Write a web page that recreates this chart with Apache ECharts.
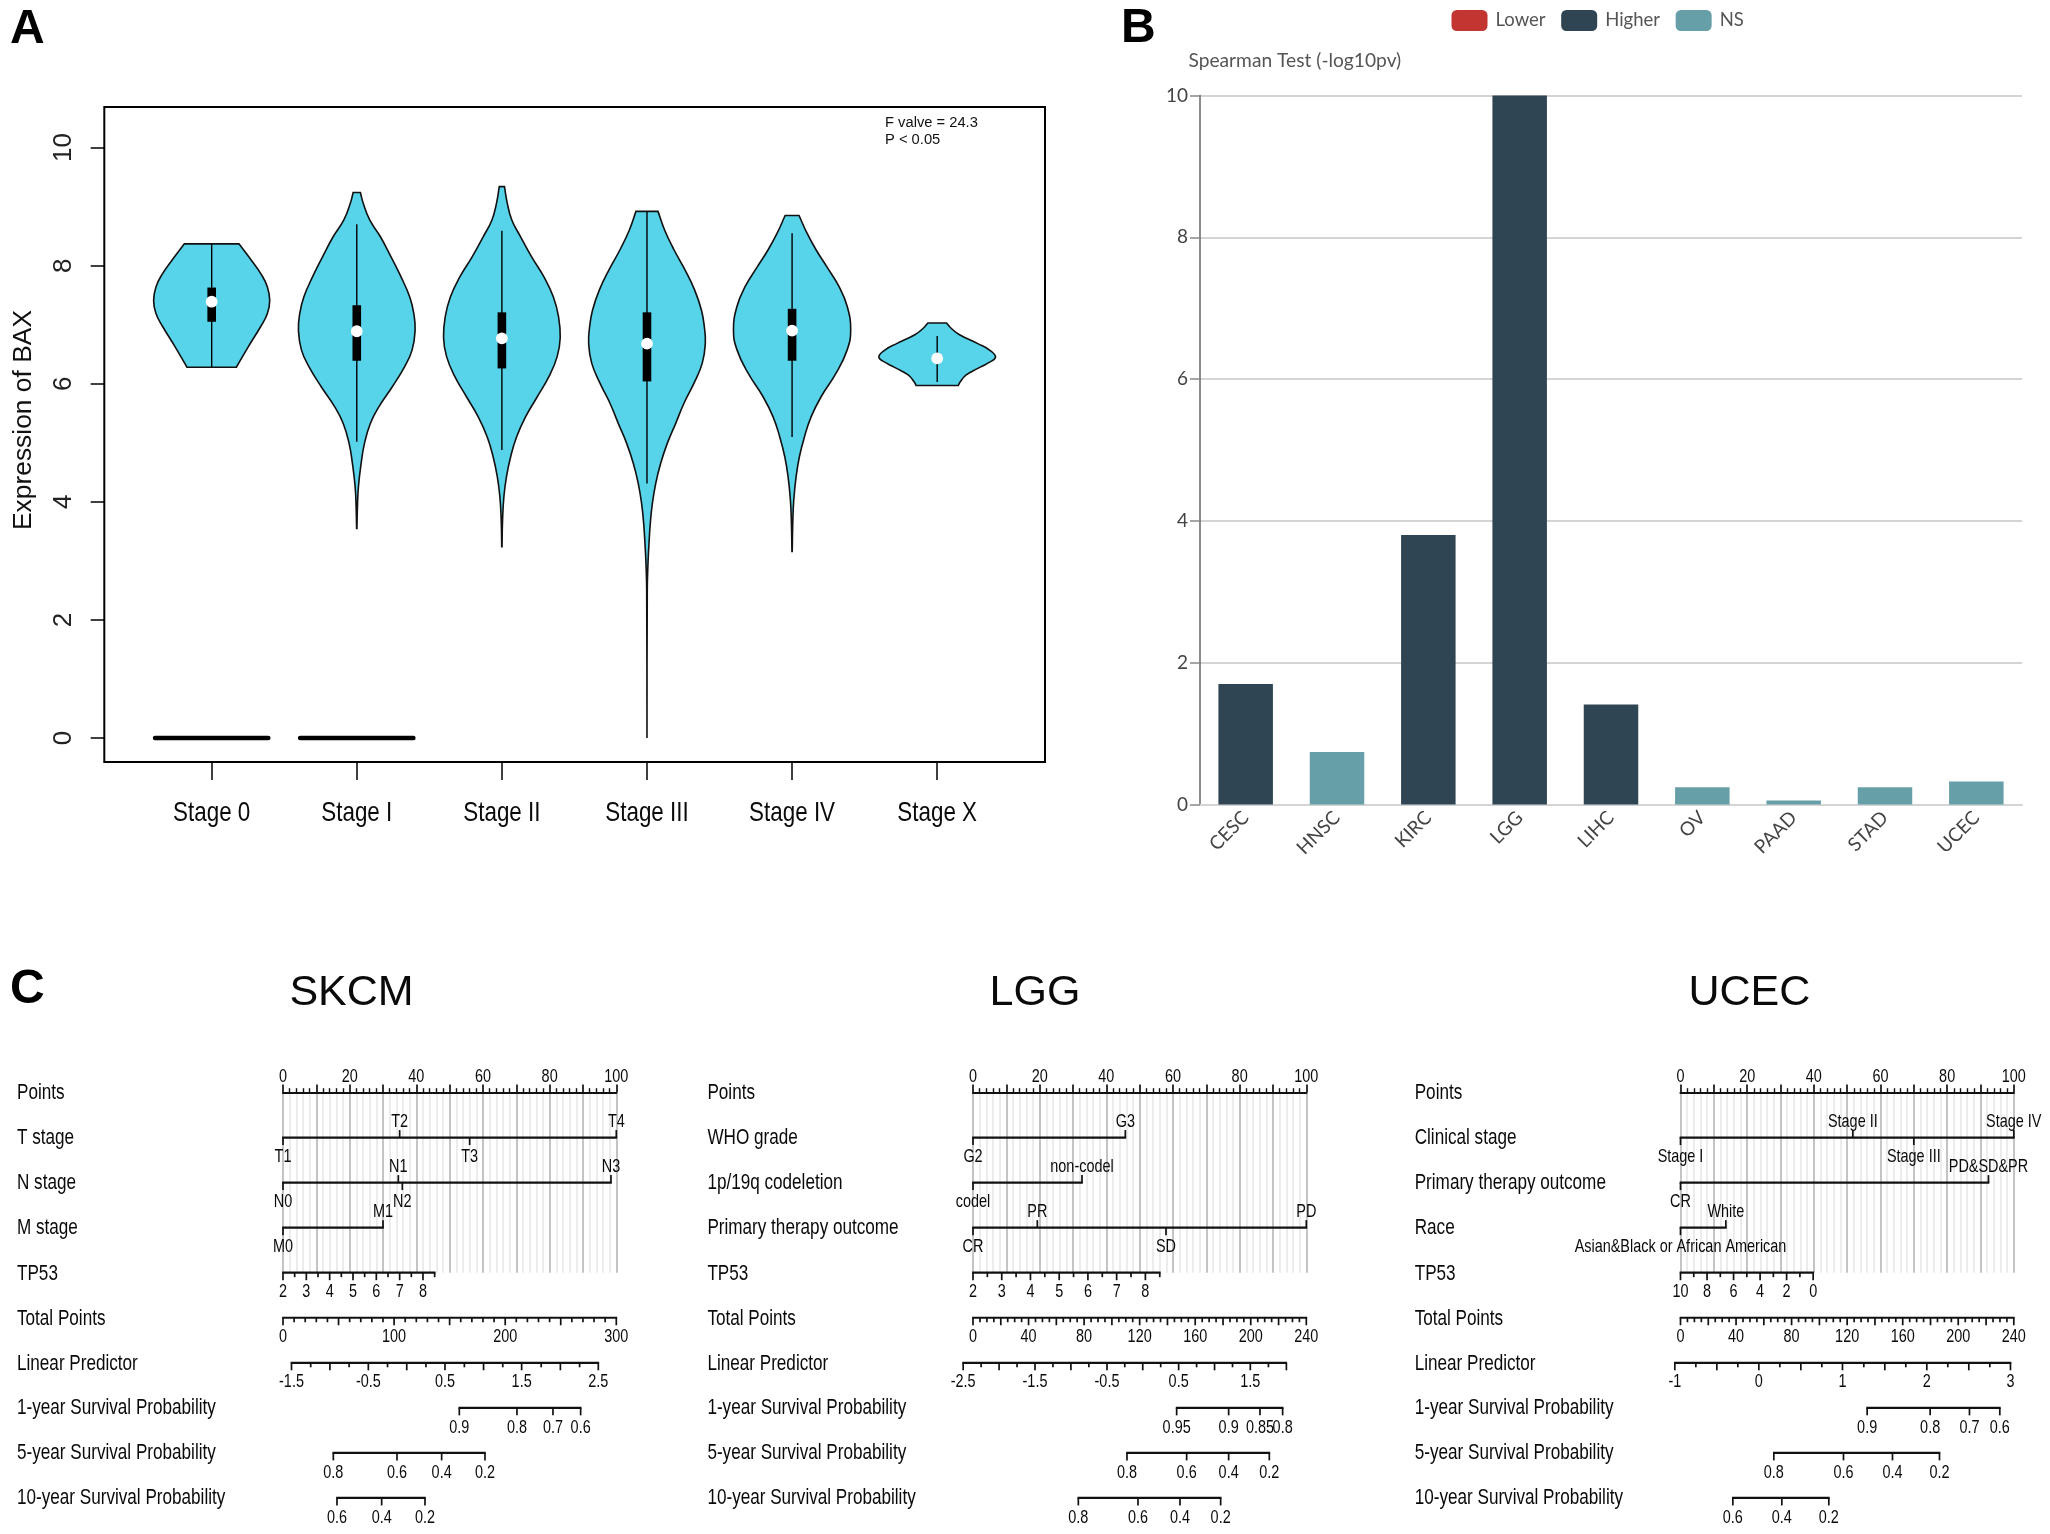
<!DOCTYPE html>
<html><head><meta charset="utf-8">
<style>html,body{margin:0;padding:0;background:#fff}#c{width:2050px;height:1534px}</style>
<script src="https://cdn.jsdelivr.net/npm/echarts@6/dist/echarts.min.js"></script>
</head><body><div id="c"></div>
<script>
// ---------- Panel A: violin data ([expression, half width]) ----------
const stageNames = ['Stage 0','Stage I','Stage II','Stage III','Stage IV','Stage X'];
const stageTicks = [0,1,2,3,4,5];
const exprTicks = [0,2,4,6,8,10];
const violinStage0 = [[8.37,.188],[8.10,.271],[7.84,.345],[7.64,.384],[7.41,.40],[7.19,.384],[6.97,.338],[6.63,.253],[6.28,.17]];
const violinStage1 = [[9.24,.025],[9.06,.044],[8.77,.09],[8.49,.163],[8.15,.236],[7.81,.305],[7.47,.365],[7.19,.393],[6.90,.402],[6.57,.381],[6.29,.33],[5.95,.245],[5.61,.152],[5.33,.094],[4.99,.053],[4.65,.03],[4.26,.0115],[3.92,.0046],[3.55,.001]];
const violinStage2 = [[9.34,.018],[9.06,.037],[8.77,.069],[8.49,.129],[8.15,.205],[7.81,.29],[7.47,.355],[7.14,.39],[6.78,.402],[6.46,.381],[6.12,.324],[5.78,.244],[5.44,.163],[5.10,.101],[4.76,.06],[4.43,.032],[4.09,.014],[3.69,.0046],[3.24,.001]];
const violinStage3 = [[8.92,.076],[8.60,.122],[8.27,.186],[7.93,.262],[7.59,.328],[7.25,.375],[6.97,.395],[6.68,.402],[6.35,.381],[6.01,.324],[5.67,.255],[5.33,.198],[4.99,.14],[4.65,.094],[4.31,.06],[3.97,.037],[3.64,.023],[3.30,.014],[2.96,.007],[2.51,.002],[0,0]];
const violinStage4 = [[8.85,.048],[8.55,.103],[8.27,.165],[7.98,.24],[7.64,.325],[7.31,.38],[6.91,.404],[6.57,.379],[6.18,.303],[5.78,.20],[5.44,.131],[5.10,.085],[4.76,.05],[4.43,.028],[4.03,.0115],[3.64,.0046],[3.16,.001]];
const violinStageX = [[7.03,.064],[6.94,.096],[6.83,.154],[6.68,.28],[6.57,.361],[6.45,.402],[6.35,.349],[6.26,.28],[6.15,.20],[6.03,.158],[5.97,.145]];
const violins = [violinStage0,violinStage1,violinStage2,violinStage3,violinStage4,violinStageX];
const medians = [7.39,6.89,6.77,6.68,6.90,6.43];
const q1s = [7.05,6.39,6.26,6.04,6.39,6.43];
const q3s = [7.63,7.33,7.21,7.21,7.27,6.43];
const whiskLo = [6.28,5.02,4.88,4.31,5.10,6.03];
const whiskHi = [8.37,8.70,8.59,8.92,8.55,6.81];
const zeroViolinStages = [0,1];
const zeroViolinHalf = .39;

// ---------- Panel B ----------
const cancerTypes = ['CESC','HNSC','KIRC','LGG','LIHC','OV','PAAD','STAD','UCEC'];
const lowerValues = [null,null,null,null,null,null,null,null,null];
const higherValues = [1.70,null,3.80,10,1.41,null,null,null,null];
const nsValues = [null,0.74,null,null,null,0.245,0.055,0.245,0.325];

// ---------- Panel C: nomograms ----------
const pointTicks = [0,20,40,60,80,100];
const survivalRows = ['1-year Survival Probability','5-year Survival Probability','10-year Survival Probability'];
const skcmRowNames = ['Points','T stage','N stage','M stage','TP53','Total Points','Linear Predictor',...survivalRows];
const lggRowNames = ['Points','WHO grade','1p/19q codeletion','Primary therapy outcome','TP53','Total Points','Linear Predictor',...survivalRows];
const ucecRowNames = ['Points','Clinical stage','Primary therapy outcome','Race','TP53','Total Points','Linear Predictor',...survivalRows];

const skcmLabels = [[],['T1','T2','T3','T4'],['N0','N1','N2','N3'],['M0','M1'],
 ['2','3','4','5','6','7','8'],['0','100','200','300'],['-1.5','-0.5','0.5','1.5','2.5'],
 ['0.9','0.8','0.7','0.6'],['0.8','0.6','0.4','0.2'],['0.6','0.4','0.2']];
const skcmPoints = [[],[0,35,56,100],[0,34.6,35.8,98.4],[0,30],
 [0,7,14,21,28,35,42],[0,33.33,66.67,100],[2.55,25.6,48.6,71.6,94.6],
 [52.9,70.2,81,89.3],[15.1,34.2,47.6,60.6],[16.2,29.6,42.6]];
const skcmSubdiv = [0,0,0,0,2,10,4,0,0,0];
const skcmLongEvery = [0,0,0,0,2,5,2,0,0,0];
const skcmTail = [0,0,0,0,1,0,0,0,0,0];

const lggLabels = [[],['G2','G3'],['codel','non-codel'],['CR','PR','SD','PD'],
 ['2','3','4','5','6','7','8'],['0','40','80','120','160','200','240'],['-2.5','-1.5','-0.5','0.5','1.5'],
 ['0.95','0.9','0.85','0.8'],['0.8','0.6','0.4','0.2'],['0.8','0.6','0.4','0.2']];
const lggPoints = [[],[0,45.7],[0,32.7],[0,19.3,57.9,100],
 [0,8.62,17.24,25.86,34.48,43.1,51.72],[0,16.67,33.33,50,66.67,83.33,100],[-2.95,18.6,40.2,61.7,83.2],
 [61.1,76.7,86.1,92.9],[46.2,64.1,76.7,88.9],[31.6,49.5,62.1,74.3]];
const lggSubdiv = [0,0,0,0,2,8,4,0,0,0];
const lggLongEvery = [0,0,0,0,2,4,2,0,0,0];
const lggTail = [0,0,0,0,1,0,2,0,0,0];

const ucecLabels = [[],['Stage I','Stage II','Stage III','Stage IV'],['CR','PD&SD&PR'],['Asian&Black or African American','White'],
 ['10','8','6','4','2','0'],['0','40','80','120','160','200','240'],['-1','0','1','2','3'],
 ['0.9','0.8','0.7','0.6'],['0.8','0.6','0.4','0.2'],['0.6','0.4','0.2']];
const ucecPoints = [[],[0,51.7,70,100],[0,92.4],[0,13.6],
 [0,7.96,15.92,23.88,31.84,39.8],[0,16.67,33.33,50,66.67,83.33,100],[-1.7,23.5,48.6,73.9,99],
 [56,74.9,86.7,95.8],[28,48.9,63.6,77.7],[15.7,30.4,44.5]];
const ucecSubdiv = [0,0,0,0,2,8,4,0,0,0];
const ucecLongEvery = [0,0,0,0,2,4,2,0,0,0];
const ucecTail = [0,0,0,0,0,0,0,0,0,0];

const ARIAL = '"Liberation Sans",sans-serif';
const SOFT = 'Lato,"Open Sans",sans-serif';

// narrow text: Liberation Sans squeezed horizontally
function narrowText(s, x, y, size, squeeze, align){
  return {type:'text', x, y:y+1.3, scaleX:squeeze, silent:true,
    style:{text:s, x:0, y:0, align:align||'center', verticalAlign:'middle', font:size+'px '+ARIAL, fill:'#0a0a0a'}};
}

// ---------- Panel A renderer ----------
const AXIS_BOTTOM = -0.4065;
function renderViolin(params, api){
  const i = params.dataIndex, prof = violins[i], pts = [];
  const n = prof.length;
  prof.forEach((p,k) => { const q = api.coord([i - p[1], p[0]]); pts.push(q); if (k===0||k===n-1) pts.push(q.slice()); });
  for (let k=n-1;k>=0;k--){ const p=prof[k], q=api.coord([i + p[1], p[0]]); pts.push(q); if (k===0||k===n-1) pts.push(q.slice()); }
  const c = api.coord([i, medians[i]]);
  const hi = api.coord([i, whiskHi[i]]), lo = api.coord([i, whiskLo[i]]);
  const q3 = api.coord([i, q3s[i]]), q1 = api.coord([i, q1s[i]]);
  const base = api.coord([i, AXIS_BOTTOM]);
  const children = [
    {type:'polygon', shape:{points:pts, smooth:.45}, style:{fill:'#58d4ea', stroke:'#111', lineWidth:1.6}},
    {type:'line', shape:{x1:hi[0],y1:hi[1],x2:lo[0],y2:lo[1]}, style:{stroke:'#000', lineWidth:1.4}}
  ];
  if (q3s[i] !== q1s[i]) children.push({type:'rect', shape:{x:c[0]-4.3,y:q3[1],width:8.6,height:q1[1]-q3[1]}, style:{fill:'#000'}});
  children.push({type:'circle', shape:{cx:c[0],cy:c[1],r:5.9}, style:{fill:'#fff'}});
  children.push(narrowText(stageNames[i], base[0], base[1]+50, 28, .8));
  return {type:'group', children};
}
function renderZeroViolin(params, api){
  const s = zeroViolinStages[params.dataIndex];
  const a = api.coord([s - zeroViolinHalf, 0]), b = api.coord([s + zeroViolinHalf, 0]);
  return {type:'line', shape:{x1:a[0],y1:a[1],x2:b[0],y2:b[1]}, style:{stroke:'#000', lineWidth:4.6, lineCap:'round'}};
}

// ---------- Panel C renderer ----------
function nomogram(names, labels, points, subdiv, longEvery, tail, nameOffset){
  return function(params, api){
    const r = params.dataIndex, o = api.coord([0, r]), y0 = o[1], x0 = o[0];
    const dy = (r === 4 || r === 5 || r === 6) ? 0 : -1.3;
    const kids = [narrowText(names[r], x0 - nameOffset, y0 + dy, 22, .778, 'left')];
    const X = v => api.coord([v, r])[0];
    const txt = (s, x, y) => narrowText(s, x, y, 18.5, .78);
    if (r === 0) {
      pointTicks.forEach(p => kids.push(txt(String(p), X(p), y0 - 17)));
      return {type:'group', children:kids};
    }
    const pos = points[r], lab = labels[r];
    const tick = (x, y1, y2) => ({type:'line', shape:{x1:x,y1,x2:x,y2}, style:{stroke:'#111', lineWidth:1.7}});
    const categorical = r <= 3;
    let last = pos[pos.length-1];
    if (!categorical && subdiv[r] && tail[r]) last += tail[r] * (pos[1]-pos[0]) / subdiv[r];
    kids.push({type:'line', shape:{x1:X(pos[0])-0.85,y1:y0,x2:X(last)+0.85,y2:y0}, style:{stroke:'#111', lineWidth:2.2}});
    pos.forEach((p, k) => {
      const x = X(p);
      if (categorical) {
        const up = k % 2 === 1;
        kids.push(tick(x, y0, y0 + (up ? -7.5 : 7.5)));
        kids.push(txt(lab[k], x, y0 + (up ? -17 : 18)));
      } else {
        kids.push(tick(x, y0, y0 + 7.5));
        kids.push(txt(lab[k], x, y0 + 18.3));
      }
    });
    if (!categorical && subdiv[r]) {
      const n = subdiv[r], step = (pos[1]-pos[0]) / n;
      const total = (pos.length-1)*n + tail[r];
      for (let k = 1; k <= total; k++) {
        if (k % n === 0 && k <= (pos.length-1)*n) continue;
        const isLong = longEvery[r] && k % longEvery[r] === 0;
        kids.push(tick(X(pos[0] + k*step), y0, y0 + (isLong ? 7.5 : 4.5)));
      }
    }
    return {type:'group', children:kids};
  };
}

const nomoLefts = [283, 973, 1680.5];
const nomoSets = [
  [skcmRowNames,skcmLabels,skcmPoints,skcmSubdiv,skcmLongEvery,skcmTail,266],
  [lggRowNames,lggLabels,lggPoints,lggSubdiv,lggLongEvery,lggTail,265.6],
  [ucecRowNames,ucecLabels,ucecPoints,ucecSubdiv,ucecLongEvery,ucecTail,265.8]
];

const grids = [
  {left:104.3, top:107, width:940.7, height:655, show:true, borderColor:'#000', borderWidth:2, backgroundColor:'transparent'},
  {left:1200, top:95.5, width:822, height:709},
  ...nomoLefts.map(l => ({left:l, top:1092.5, width:333.3, height:180.2}))
];
const xAxes = [
  {gridIndex:0, type:'value', min:-0.740, max:5.743, position:'bottom', splitLine:{show:false},
   axisLine:{show:false,onZero:false}, axisTick:{show:true,length:18,customValues:stageTicks,lineStyle:{color:'#000',width:1.5}},
   axisLabel:{show:false}},
  {gridIndex:1, type:'category', data:cancerTypes, axisLine:{lineStyle:{color:'#d4d4d4',width:2}}, axisTick:{show:false},
   axisLabel:{rotate:45, margin:10, interval:0, fontFamily:SOFT, fontSize:19, color:'#444'}},
  ...nomoLefts.map((l,i) => ({gridIndex:i+2, type:'value', min:0, max:100, interval:10, position:'top',
    axisLine:{onZero:false, lineStyle:{color:'#111',width:2.2}},
    axisTick:{show:true,length:8,lineStyle:{color:'#111',width:1.7}},
    minorTick:{show:true,splitNumber:5,length:4.3,lineStyle:{color:'#111',width:1.4}},
    splitLine:{show:true,lineStyle:{color:'#c4c4c4',width:2}},
    minorSplitLine:{show:true,lineStyle:{color:'#e8e8e8',width:1.6}},
    axisLabel:{show:false}}))
];
const yAxes = [
  {gridIndex:0, type:'value', min:AXIS_BOTTOM, max:10.688, splitLine:{show:false},
   axisLine:{show:false,onZero:false}, axisTick:{show:true,length:13.6,customValues:exprTicks,lineStyle:{color:'#000',width:1.5}},
   axisLabel:{customValues:exprTicks, rotate:90, margin:27, fontFamily:ARIAL, fontSize:26, color:'#222'}},
  {gridIndex:1, type:'value', min:0, max:10, interval:2,
   name:'Spearman Test (-log10pv)', nameLocation:'end', nameGap:25,
   nameTextStyle:{fontFamily:SOFT, fontSize:19.2, color:'#555', align:'left', padding:[0,0,0,-11.5]},
   axisLine:{show:true,lineStyle:{color:'#666',width:1.5}}, axisTick:{show:true,length:10,lineStyle:{color:'#888',width:1.5}},
   splitLine:{lineStyle:{color:'#d4d4d4',width:2}},
   axisLabel:{margin:12, fontFamily:SOFT, fontSize:19, color:'#444'}},
  ...nomoLefts.map((l,i) => ({gridIndex:i+2, type:'value', min:0, max:4, inverse:true, show:false}))
];

const series = [
  {type:'custom', name:'violin', xAxisIndex:0, yAxisIndex:0, renderItem:renderViolin, clip:false, silent:true,
   data:medians.map((m,i)=>[i,m]), encode:{x:0,y:1}},
  {type:'custom', name:'zero', xAxisIndex:0, yAxisIndex:0, renderItem:renderZeroViolin, clip:false, silent:true,
   data:zeroViolinStages.map(s=>[s,0]), encode:{x:0,y:1}},
  {type:'bar', name:'Lower', xAxisIndex:1, yAxisIndex:1, data:lowerValues, barWidth:54.5, barGap:'-100%', itemStyle:{color:'#c23531'}},
  {type:'bar', name:'Higher', xAxisIndex:1, yAxisIndex:1, data:higherValues, barWidth:54.5, barGap:'-100%', itemStyle:{color:'#2f4554'}},
  {type:'bar', name:'NS', xAxisIndex:1, yAxisIndex:1, data:nsValues, barWidth:54.5, barGap:'-100%', itemStyle:{color:'#669fa8'}},
  ...nomoSets.map((s,i) => ({type:'custom', xAxisIndex:i+2, yAxisIndex:i+2, clip:false, silent:true,
    renderItem:nomogram(...s), data:s[0].map((n,r)=>[0,r]), encode:{x:0,y:1}}))
];

const titleFont = {fontFamily:ARIAL, fontSize:43, fontWeight:'normal', color:'#0a0a0a'};
const option = {
  backgroundColor:'#fff', animation:false,
  grid:grids, xAxis:xAxes, yAxis:yAxes, series,
  legend:{left:1451.5, top:10, padding:0, data:['Lower','Higher','NS'], itemWidth:36, itemHeight:21, itemGap:15.6,
    textStyle:{fontFamily:SOFT, fontSize:18.5, color:'#555', padding:[0,0,0,3]}},
  title:[
    {text:'SKCM', left:351.5, top:993.6, padding:0, textAlign:'center', textVerticalAlign:'middle', textStyle:titleFont},
    {text:'LGG', left:1035, top:993.6, padding:0, textAlign:'center', textVerticalAlign:'middle', textStyle:titleFont},
    {text:'UCEC', left:1749.4, top:993.6, padding:0, textAlign:'center', textVerticalAlign:'middle', textStyle:titleFont}
  ],
  graphic:[
    {type:'text', x:10, y:29.5, style:{text:'A', font:'bold 48px '+ARIAL, fill:'#000', verticalAlign:'middle'}},
    {type:'text', x:1121, y:28.5, style:{text:'B', font:'bold 48px '+ARIAL, fill:'#000', verticalAlign:'middle'}},
    {type:'text', x:10, y:989.6, style:{text:'C', font:'bold 48px '+ARIAL, fill:'#000', verticalAlign:'middle'}},
    {type:'text', x:885, y:122.8, scaleX:.95, style:{text:'F valve = 24.3', font:'15.5px '+ARIAL, fill:'#111', verticalAlign:'middle'}},
    {type:'text', x:885, y:140.2, scaleX:.95, style:{text:'P < 0.05', font:'15.5px '+ARIAL, fill:'#111', verticalAlign:'middle'}},
    {type:'text', x:23.7, y:420, rotation:Math.PI/2, style:{text:'Expression of BAX', font:'26.4px '+ARIAL, fill:'#111', align:'center', verticalAlign:'middle'}}
  ]
};
echarts.init(document.getElementById('c')).setOption(option);
</script></body></html>
